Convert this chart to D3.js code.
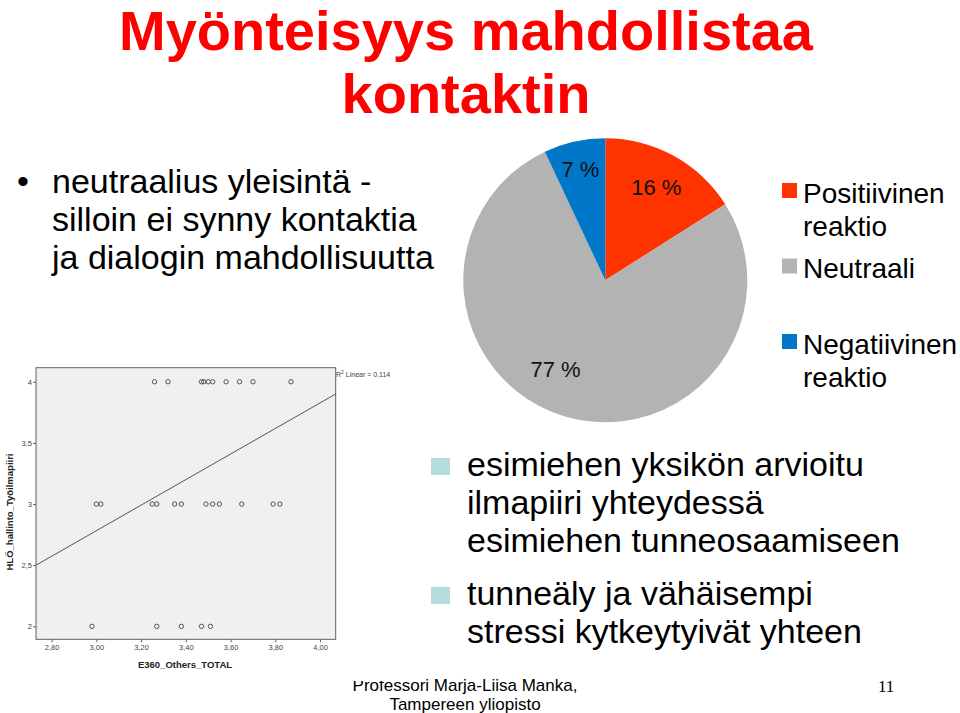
<!DOCTYPE html>
<html>
<head>
<meta charset="utf-8">
<script src="https://cdn.jsdelivr.net/npm/d3@7/dist/d3.min.js"></script>
<style>
  html, body { margin: 0; padding: 0; background: #fff; }
  svg { display: block; font-family: "Liberation Sans", Arial, sans-serif; }
</style>
</head>
<body>
<svg id="chart" width="960" height="713"></svg>
<script>
// ---------- data ----------
const titleLines = ["Myönteisyys mahdollistaa", "kontaktin"];
const bulletLines = ["neutraalius yleisintä  -", "silloin ei synny kontaktia", "ja dialogin mahdollisuutta"];
const pieCategories = ["Positiivinen reaktio", "Neutraali", "Negatiivinen reaktio"];
const pieValues = [16, 77, 7];
const pieLabels = ["16 %", "77 %", "7 %"];
const legendLines = [["Positiivinen", "reaktio"], ["Neutraali"], ["Negatiivinen", "reaktio"]];
const findingGroups = [
  ["esimiehen yksikön arvioitu", "ilmapiiri yhteydessä", "esimiehen tunneosaamiseen"],
  ["tunneäly ja vähäisempi", "stressi kytkeytyivät yhteen"]
];
const footerLines = ["Professori Marja-Liisa Manka,", "Tampereen yliopisto"];
const pageNumber = "11";

// scatter (E360_Others_TOTAL vs HLÖ_hallinto_Työilmapiiri)
const scatterX = [3.26, 3.32, 3.47, 3.48, 3.50, 3.52, 3.58, 3.64, 3.70, 3.87,
                  3.00, 3.02, 3.25, 3.27, 3.35, 3.38, 3.49, 3.52, 3.55, 3.65, 3.79, 3.82,
                  2.98, 3.27, 3.38, 3.47, 3.51];
const scatterY = [4, 4, 4, 4, 4, 4, 4, 4, 4, 4,
                  3, 3, 3, 3, 3, 3, 3, 3, 3, 3, 3, 3,
                  2, 2, 2, 2, 2];
const fitX = [2.73, 4.07];
const fitY = [2.50, 3.90];
const xTicks = [2.8, 3.0, 3.2, 3.4, 3.6, 3.8, 4.0];
const yTicks = [2, 2.5, 3, 3.5, 4];
const xAxisTitle = "E360_Others_TOTAL";
const yAxisTitle = "HLÖ_hallinto_Työilmapiiri";
const r2Text = " Linear = 0,114";

// ---------- drawing ----------
const svg = d3.select("#chart");
const black = "#000";

// title
svg.selectAll("text.title").data(titleLines).join("text")
  .attr("class", "title")
  .attr("x", 466).attr("y", (d, i) => 50 + i * 63)
  .attr("text-anchor", "middle")
  .attr("font-size", 56).attr("font-weight", "bold")
  .attr("fill", "#ff0000")
  .text(d => d);

// top bullet
svg.append("text").attr("x", 17).attr("y", 193).attr("font-size", 34).attr("fill", black).text("•");
svg.selectAll("text.bl").data(bulletLines).join("text")
  .attr("class", "bl")
  .attr("x", 52).attr("y", (d, i) => 193 + i * 38)
  .attr("font-size", 34).attr("fill", black)
  .text(d => d);

// ---------- pie ----------
const cx = 605.3, cy = 280.3, R = 142;
const pieColors = d3.scaleOrdinal().domain(pieCategories).range(["#ff3300", "#b3b3b3", "#0077c8"]);
const pie = d3.pie().sort(null).value(d => d.v);
const arcs = pie(pieCategories.map((c, i) => ({ c, v: pieValues[i], label: pieLabels[i] })));
const arcGen = d3.arc().innerRadius(0).outerRadius(R);
const pg = svg.append("g").attr("transform", `translate(${cx},${cy})`);
pg.selectAll("path").data(arcs).join("path")
  .attr("d", arcGen)
  .attr("fill", d => pieColors(d.data.c));

const labelRadius = [106, 102, 114];
const labelShift = [0, 0.227, 0];
pg.selectAll("text").data(arcs).join("text")
  .attr("x", (d, i) => Math.sin((d.startAngle + d.endAngle) / 2 + labelShift[i]) * labelRadius[i])
  .attr("y", (d, i) => -Math.cos((d.startAngle + d.endAngle) / 2 + labelShift[i]) * labelRadius[i] + 8)
  .attr("text-anchor", "middle")
  .attr("font-size", 22).attr("fill", "#111")
  .text(d => d.data.label);

// legend
const lg = svg.append("g");
legendLines.forEach((lines, i) => {
  const top = 183 + i * 75.5;
  lg.append("rect").attr("x", 782).attr("y", top).attr("width", 15).attr("height", 15)
    .attr("fill", pieColors(pieCategories[i]));
  lines.forEach((t, j) => {
    lg.append("text").attr("x", 803).attr("y", top + 19.5 + j * 33.5)
      .attr("font-size", 28).attr("fill", black).text(t);
  });
});

// lower bullets
const groupTops = [476, 605];
findingGroups.forEach((g, gi) => {
  const base = groupTops[gi];
  svg.append("rect").attr("x", 431).attr("y", base - 18).attr("width", 19).attr("height", 17)
    .attr("fill", "#b5dde0");
  g.forEach((t, j) => {
    svg.append("text").attr("x", 467).attr("y", base + j * 38)
      .attr("font-size", 34).attr("fill", black).text(t);
  });
});

// footer
svg.selectAll("text.ft").data(footerLines).join("text")
  .attr("class", "ft")
  .attr("x", 465).attr("y", (d, i) => 691 + i * 19)
  .attr("text-anchor", "middle")
  .attr("font-size", 17).attr("fill", black)
  .text(d => d);
svg.append("text").attr("x", 878).attr("y", 692)
  .attr("font-family", "'Liberation Serif', 'Times New Roman', serif")
  .attr("font-size", 17).attr("fill", black).text(pageNumber);

// ---------- scatter (pasted image) ----------
svg.append("rect").attr("x", 28).attr("y", 356).attr("width", 370).attr("height", 325).attr("fill", "#fff");

const x = d3.scaleLinear().domain([2.73, 4.07]).range([36, 335.7]);
const y = d3.scaleLinear().domain([1.894, 4.115]).range([639.3, 367.7]);

const sg = svg.append("g");
sg.append("rect")
  .attr("x", x(2.73)).attr("y", y(4.115))
  .attr("width", x(4.07) - x(2.73)).attr("height", y(1.894) - y(4.115))
  .attr("fill", "#f0f0f0").attr("stroke", "#606060").attr("stroke-width", 1);

const fmtY = d => String(d).replace(".", ",");
const fmtX = d => d.toFixed(2).replace(".", ",");

const yAxis = sg.append("g").attr("transform", `translate(${x(2.73)},0)`)
  .call(d3.axisLeft(y).tickValues(yTicks).tickFormat(fmtY).tickSize(3).tickPadding(1));
const xAxis = sg.append("g").attr("transform", `translate(0,${y(1.894)})`)
  .call(d3.axisBottom(x).tickValues(xTicks).tickFormat(fmtX).tickSize(3).tickPadding(2));
[yAxis, xAxis].forEach(a => {
  a.select(".domain").remove();
  a.selectAll("line").attr("stroke", "#606060");
  a.selectAll("text").attr("font-size", 7.5).attr("fill", "#444")
    .attr("font-family", "'Liberation Sans', Arial, sans-serif");
});

sg.append("line")
  .attr("x1", x(fitX[0])).attr("y1", y(fitY[0]))
  .attr("x2", x(fitX[1])).attr("y2", y(fitY[1]))
  .attr("stroke", "#555").attr("stroke-width", 1);

sg.selectAll("circle").data(scatterX.map((v, i) => [v, scatterY[i]])).join("circle")
  .attr("cx", d => x(d[0])).attr("cy", d => y(d[1])).attr("r", 2.2)
  .attr("fill", "none").attr("stroke", "#444").attr("stroke-width", 0.9);

sg.append("text").attr("x", 185).attr("y", 668).attr("text-anchor", "middle")
  .attr("font-size", 9.5).attr("font-weight", "bold").attr("fill", "#222").text(xAxisTitle);
sg.append("text").attr("transform", "translate(13,512) rotate(-90)").attr("text-anchor", "middle")
  .attr("font-size", 9.5).attr("font-weight", "bold").attr("fill", "#222").text(yAxisTitle);

const r2 = sg.append("text").attr("x", 336).attr("y", 377).attr("font-size", 7).attr("fill", "#444");
r2.append("tspan").text("R");
r2.append("tspan").attr("dy", -3).attr("font-size", 5).text("2");
r2.append("tspan").attr("dy", 3).text(r2Text);
</script>
</body>
</html>
